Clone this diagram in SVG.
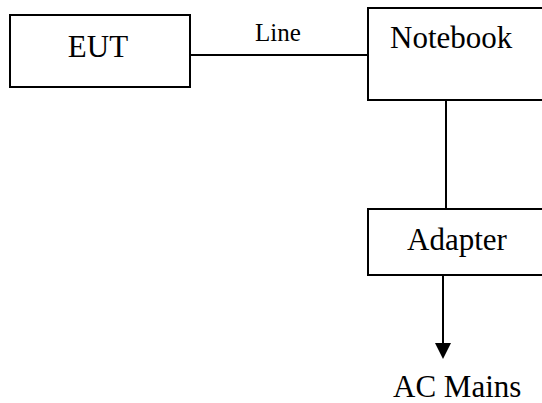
<svg xmlns="http://www.w3.org/2000/svg" width="542" height="403" viewBox="0 0 542 403">
<style>
.box{fill:#fff;stroke:#000;stroke-width:2}
.t{font-family:"Liberation Serif","Times New Roman",serif;font-size:31px;fill:#000}
.s{font-family:"Liberation Serif","Times New Roman",serif;font-size:25px;fill:#000}
.c{stroke:#000;stroke-width:2;fill:none}
</style>
<rect width="542" height="403" fill="#fff"/>
<g id="connectors">
<line class="c" x1="190" y1="55" x2="368" y2="55"/>
<line class="c" x1="446" y1="100" x2="446" y2="209"/>
<line class="c" x1="443" y1="275" x2="443" y2="343"/>
<path d="M435,343 L451,343 L443,359 Z" fill="#000"/>
<text class="s" x="278" y="41" text-anchor="middle">Line</text>
</g>
<g id="eut">
<rect class="box" x="10" y="15" width="180" height="72"/>
<text class="t" x="98" y="57" text-anchor="middle">EUT</text>
</g>
<g id="notebook">
<rect class="box" x="368" y="8" width="180" height="92"/>
<text class="t" x="390" y="48">Notebook</text>
</g>
<g id="adapter">
<rect class="box" x="368" y="209" width="180" height="66"/>
<text class="t" x="407" y="250">Adapter</text>
</g>
<g id="acmains">
<text class="t" x="393" y="397">AC Mains</text>
</g>
</svg>
